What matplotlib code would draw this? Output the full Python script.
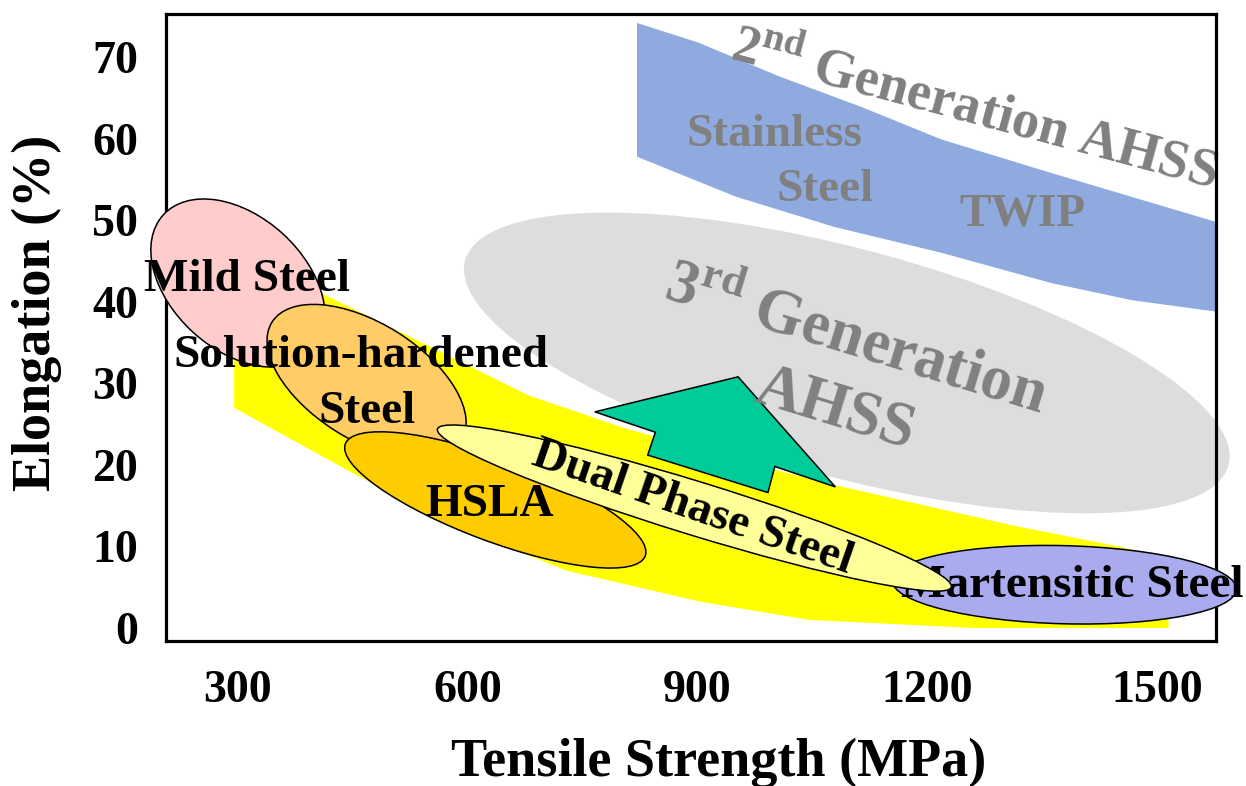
import numpy as np
import matplotlib.pyplot as plt
from matplotlib.patches import Ellipse, Polygon
from matplotlib.transforms import Affine2D

plt.rcParams['font.family'] = 'Liberation Serif'
plt.rcParams['font.weight'] = 'bold'
plt.rcParams['mathtext.fontset'] = 'custom'
plt.rcParams['mathtext.rm'] = 'Liberation Serif:bold'
plt.rcParams['mathtext.bf'] = 'Liberation Serif:bold'

# conventional steels "banana" band (yellow)
band_top_mpa = [295, 410, 540, 680, 805, 955, 1080, 1315, 1450, 1515]
band_top_el = [47, 41, 35, 28.5, 24.5, 20.5, 17.5, 12.5, 10, 8.5]
band_low_mpa = [1515, 1260, 1045, 905, 730, 570, 440, 295]
band_low_el = [0, 0, 1, 3.2, 7, 13, 19.5, 27]

# 2nd generation AHSS band (blue)
gen2_top_mpa = [821, 901, 1008, 1114, 1219, 1362, 1577]
gen2_top_el = [74.2, 71.8, 67.6, 63.9, 59.9, 55.8, 49.8]
gen2_low_mpa = [821, 950, 1078, 1219, 1362, 1467, 1577]
gen2_low_el = [57.8, 52.9, 49.2, 46.0, 42.3, 40.2, 38.8]

# steel families as ellipses: centre, half spans (MPa-equivalent), tilt
steels = ['3rd Gen', 'Mild Steel', 'Solution-hardened Steel', 'HSLA',
          'Martensitic Steel', 'Dual Phase Steel']
centre_mpa = [1095, 300, 468, 636, 1379, 896]
centre_el = [32.5, 42.3, 30.2, 15.7, 5.3, 14.7]
half_major = [516, 132, 146, 209, 225, 351]
half_minor = [149, 87, 76, 54, 51, 35]
tilt_deg = [-15, -42.4, -32.2, -20.5, -1.5, -17.1]
fills = ['#DDDDDD', '#FFCCCC', '#FFCC66', '#FFCC00', '#AAAAEE', '#FFFF99']

# arrow towards 3rd generation
arrow_mpa = [953, 766, 845, 835, 992, 1001, 1080]
arrow_el = [30.8, 26.5, 24.0, 21.2, 16.6, 19.8, 17.3]

fig = plt.figure(figsize=(12.46, 7.86), dpi=100)
ax = fig.add_axes([0.1332, 0.1845, 0.8427, 0.7977])
ax.set_xlim(206, 1577)
ax.set_ylim(-1.6, 75.3)
ax.set_xticks([300, 600, 900, 1200, 1500])
ax.set_yticks(range(0, 80, 10))
ax.tick_params(length=0, labelsize=33)
ax.tick_params(axis='y', pad=20)
ax.tick_params(axis='x', pad=21)
for s in ax.spines.values():
    s.set_linewidth(2.3)
ax.set_xlabel('Tensile Strength (MPa)', fontsize=39, fontweight='bold', va='center')
ax.set_ylabel('Elongation (%)', fontsize=39, fontweight='bold', va='center')
ax.xaxis.set_label_coords(0.526, -0.195)
ax.yaxis.set_label_coords(-0.123, 0.523)

# isotropic frame: x in MPa, y scaled so one unit is the same length on screen
p = ax.transData.transform([(0, 0), (1, 1)])
k = (p[1, 0] - p[0, 0]) / (p[1, 1] - p[0, 1])
iso = Affine2D().scale(1, k) + ax.transData

ax.fill(band_top_mpa + band_low_mpa, band_top_el + band_low_el,
        color='#FFFF00', lw=0, zorder=1.5)
ax.fill(gen2_top_mpa + gen2_low_mpa[::-1], gen2_top_el + gen2_low_el[::-1],
        color='#8EAADF', lw=0, zorder=1.2)

for i, name in enumerate(steels):
    edge = 'none' if i == 0 else 'black'
    z = 1.0 if i == 0 else 3 + i
    e = Ellipse((centre_mpa[i], centre_el[i] / k), 2 * half_major[i], 2 * half_minor[i],
                angle=tilt_deg[i], transform=iso, facecolor=fills[i],
                edgecolor=edge, lw=1.1, zorder=z, clip_on=False)
    ax.add_patch(e)

ax.add_patch(Polygon(np.column_stack([arrow_mpa, arrow_el]), closed=True,
                     facecolor='#00CC99', edgecolor='black', lw=1.1, zorder=2))

blk = dict(fontsize=34, ha='center', va='center', color='black')
ax.text(312, 42.7, 'Mild Steel', zorder=4.5, **blk)
ax.text(461, 33.3, 'Solution-hardened', zorder=5.5, **blk)
ax.text(468, 26.5, 'Steel', zorder=5.5, **blk)
ax.text(629, 15.1, 'HSLA', zorder=6.5, **blk)
ax.text(1389, 5.1, 'Martensitic Steel', zorder=7.5, **blk)
ax.text(893, 14.7, 'Dual Phase Steel', rotation=-19, rotation_mode='anchor',
        zorder=8.5, **blk)

gry = dict(ha='center', va='center', color='#808080', zorder=2)
ax.text(1262, 63.6, r'2$^{\mathbf{nd}}$ Generation AHSS', fontsize=39,
        rotation=-15, rotation_mode='anchor', **gry)
ax.text(1001, 60.5, 'Stainless', fontsize=34, **gry)
ax.text(1066, 53.7, 'Steel', fontsize=34, **gry)
ax.text(1324, 50.7, 'TWIP', fontsize=34, **gry)
ax.text(1106, 35.3, r'3$^{\mathbf{rd}}$ Generation', fontsize=45,
        rotation=-17, rotation_mode='anchor', **gry)
ax.text(1080, 26.7, 'AHSS', fontsize=45, rotation=-17, rotation_mode='anchor', **gry)

fig.savefig('out.png', dpi=100)
